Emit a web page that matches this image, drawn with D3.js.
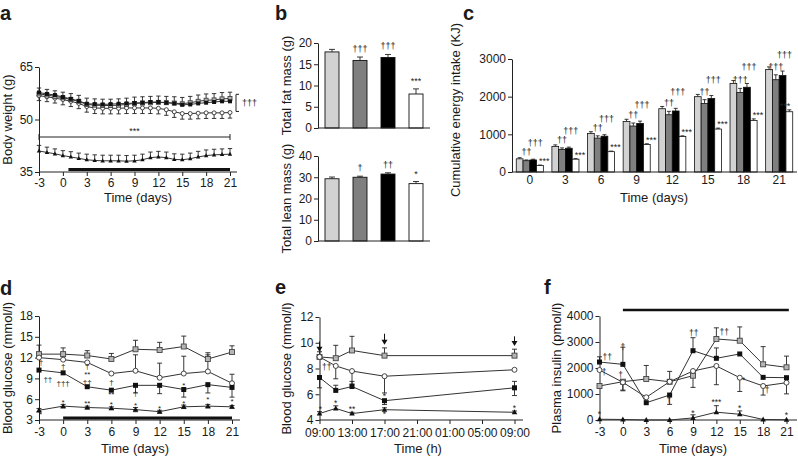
<!DOCTYPE html>
<html><head><meta charset="utf-8">
<script src="https://cdn.jsdelivr.net/npm/d3@7"></script>
<style>body{margin:0;background:#fff}</style>
</head><body><script>
const FONT = '"Liberation Sans", Arial, Helvetica, sans-serif';

// ---------------- DATA ----------------
// Panel a: body weight (g)
const aDays  = [-3,-2,-1,0,1,2,3,4,5,6,7,8,9,10,11,12,13,14,15,16,17,18,19,20,21];
const aBlack = [57.7,57.3,57.0,56.4,55.9,55.3,54.5,54.4,54.3,54.4,54.5,54.6,54.7,54.8,55.0,55.0,54.8,54.6,54.2,54.3,54.6,54.8,55.0,55.2,55.2];
const aGrey  = [57.3,57.0,56.6,56.2,55.7,55.2,54.3,54.1,54.0,54.0,54.1,54.3,54.6,54.7,54.8,54.9,54.8,54.7,54.5,54.8,55.2,55.5,55.6,55.9,56.0];
const aOpen  = [56.8,56.5,56.1,55.7,55.2,54.6,53.7,53.3,53.2,53.2,53.2,53.3,53.3,53.3,53.3,53.2,52.8,52.2,51.7,51.7,51.8,51.9,51.9,51.9,52.0];
const aTri   = [41.0,40.6,40.2,39.7,39.3,38.9,38.5,38.3,38.2,38.2,38.2,38.1,38.2,38.5,39.1,39.3,39.1,38.6,38.5,38.8,39.3,39.7,39.9,40.0,40.1];
const aErrGrey  = [1.7,1.6,1.6,1.6,1.7,1.7,1.8,1.8,1.8,1.8,1.8,1.8,1.8,1.8,1.8,1.8,1.8,1.8,1.8,1.8,1.8,1.8,1.8,1.8,1.8];
const aErrOpen  = [1.4,1.4,1.4,1.5,1.5,1.5,1.6,1.6,1.6,1.6,1.6,1.6,1.6,1.6,1.6,1.6,1.6,1.6,1.6,1.6,1.6,1.6,1.6,1.6,1.6];
const aErrTri   = [1.6,1.5,1.4,1.4,1.5,1.5,1.6,1.6,1.6,1.6,1.6,1.6,1.6,1.6,1.6,1.6,1.6,1.6,1.6,1.6,1.6,1.6,1.6,1.6,1.6];
const aTicksX = [-3,0,3,6,9,12,15,18,21];
const aTicksY = [35,50,65];
const aTreat = [0.7, 21];

// Panel b: body composition
const bGroups = ['g1','g2','g3','g4'];
const bColors = ['#d2d2d2','#7f7f7f','#000000','#ffffff'];
const bFat = [17.9,15.9,16.6,8.0];
const bFatErr = [0.6,0.8,0.7,1.2];
const bFatAnn = ['','†††','†††','***'];
const bLean = [29.3,30.0,31.5,27.0];
const bLeanErr = [0.8,0.5,0.6,1.0];
const bLeanAnn = ['','†','††','*'];
const bFatTicks = [0,5,10,15,20];
const bLeanTicks = [0,10,20,30,40];

// Panel c: cumulative energy intake (KJ)
const cDays = ['0','3','6','9','12','15','18','21'];
const cLight = [350,680,1020,1340,1680,2000,2350,2720];
const cDark  = [300,600,900,1220,1520,1820,2110,2450];
const cBlack = [320,630,950,1290,1620,1950,2250,2560];
const cWhite = [170,340,540,730,940,1140,1370,1600];
const cLightErr = [30,40,50,60,60,60,80,70];
const cDarkErr  = [20,40,60,80,90,100,110,130];
const cBlackErr = [20,30,40,60,70,80,100,120];
const cWhiteErr = [15,15,15,20,20,25,40,50];
const cDarkAnn  = ['††','††','††','††','††','††','†††','†††'];
const cBlackAnn = ['†††','†††','†††','†††','†††','†††','†††','†††'];
const cWhiteAnn = ['***','***','***','***','***','***','***','***'];
const cTicksY = [0,1000,2000,3000];

// Panel d: blood glucose (mmol/l) over days
const dDays = [-3,0,3,6,9,12,15,18,21];
const dGrey  = [12.5,12.5,12.3,11.8,13.2,13.1,13.6,11.8,12.8];
const dGreyUp= [1.3,0.9,0.7,0.8,1.3,1.1,1.5,0.9,0.9];
const dOpen  = [12.0,11.7,11.3,9.7,10.1,9.1,9.7,10.0,8.3];
const dOpenUp= [0,0,0,0,2.3,2.1,2.5,2.4,1.3];
const dBlack = [10.2,9.8,7.8,7.3,8.0,8.0,7.4,8.1,7.7];
const dBlackDn=[0,0,0,0,1.1,1.2,1.1,1.2,1.4];
const dTri   = [4.4,5.0,4.8,4.7,4.5,4.2,4.9,5.0,4.9];
const dTriErr= [0.25,0.25,0.2,0.2,0.3,0.2,0.25,0.25,0.2];
const dTicksY = [3,6,9,12,15,18];
const dTreat = [0, 21];
const dAnn = [[-2.75,11.4,'†'],[-1.9,8.9,'††'],[0,10.8,'†'],[0,8.4,'†††'],[3,10.75,'†'],[3,9.6,'**'],[3,8.5,'††'],
  [6,8.5,'†'],[6,6.7,'**'],[6,5.3,'*'],[9,6.85,'†'],[9,5.2,'*'],[0,5.6,'*'],[3,5.5,'**'],[12,4.8,'*'],
  [15,8.05,'*'],[15,5.5,'*'],[18,6.0,'*'],[21,5.75,'*'],[-2.8,3.9,'*']];

// Panel e: blood glucose over a day (hours from 09:00)
const eHours = [0,2,4,8,24];
const eGrey  = [8.9,8.8,9.4,9.0,9.0];
const eGreyUp= [0.4,1.0,1.1,0.6,0.5];
const eOpen  = [8.9,8.2,7.8,7.4,7.9];
const eOpenDn= [0,1.0,1.0,1.3,0];
const eBlack = [7.3,6.3,6.6,5.5,6.5];
const eBlackUp=[0,0.4,0.4,0,0.5];
const eBlackDn=[0.8,0,0,0.3,0.6];
const eTri   = [4.5,4.9,4.5,4.8,4.6];
const eTriUp = [0.15,0.2,0.1,0.15,0.1];
const eTicksX = [0,4,8,12,16,20,24];
const eTickLabels = ['09:00','13:00','17:00','21:00','01:00','05:00','09:00'];
const eTicksY = [4,6,8,10,12];
const eArrows = [[0,10.1,9.3],[8,10.7,9.85],[24,10.5,9.75]];
const eAnn = [[0.9,8.1,'††'],[0.1,4.85,'*'],[2,5.3,'*'],[4,4.85,'**'],[8,5.9,'*'],[8,4.45,'*'],[24,4.9,'*']];

// Panel f: plasma insulin (pmol/l)
const fDays = [-3,0,3,6,9,12,15,18,21];
const fBlack = [2230,2140,665,960,2665,2372,2540,1640,1628];
const fBlackUp=[200,660,0,0,500,400,0,0,0];
const fBlackDn=[0,0,0,360,0,0,0,0,0];
const fGrey  = [1308,1473,1577,1470,1704,3115,3050,2142,2027];
const fGreyUp= [0,0,520,400,0,430,530,680,430];
const fGreyDn= [0,350,0,0,450,0,0,0,0];
const fOpen  = [1923,1450,873,1473,1885,2077,1627,1308,1435];
const fOpenDn= [0,300,0,0,0,720,530,350,430];
const fTri   = [30,20,0,0,80,300,220,20,10];
const fTriUp = [0,0,0,0,120,250,130,0,0];
const fTicksY = [0,1000,2000,3000,4000];
const fTreat = [0, 21.3];
const fAnn = [[-2.0,2440,'††'],[-2.4,1850,'†'],[0,2820,'†'],[-0.3,1730,'†'],[5.9,770,'†'],[9.1,3360,'††'],[13,3380,'††'],
  [15.5,1540,'*'],[18.5,1150,'†'],[-3,220,'*'],[9,280,'*'],[12,700,'***'],[15,450,'*'],[21,190,'*']];

// ---------------- HELPERS ----------------
const svg = d3.select('body').append('svg').attr('width',798).attr('height',457)
  .style('font-family',FONT);
const INK = '#1a1a1a';
const plain = d => String(d);

function styleAxis(a, fs){
  a.selectAll('path,line').attr('stroke','#222').attr('stroke-width',1);
  a.selectAll('text').attr('font-size',fs||12).attr('fill',INK).attr('font-family',FONT);
}
function yAxis(ys, x, ticks){
  const ax = d3.axisLeft(ys).tickValues(ticks).tickFormat(plain).tickSize(4).tickSizeOuter(0).tickPadding(2);
  const a = svg.append('g').attr('transform',`translate(${x},0)`).call(ax);
  styleAxis(a);
}
function xAxis(xs, y, ticks, fmt, xEnd, tsize, pad){
  const ax = d3.axisBottom(xs).tickSize(tsize===undefined?4:tsize).tickSizeOuter(0).tickPadding(pad||3)
    .tickFormat(fmt || plain);
  if (ticks) ax.tickValues(ticks);
  const a = svg.append('g').attr('transform',`translate(0,${y})`).call(ax);
  a.select('.domain').remove();
  styleAxis(a);
  const x0 = xs.range()[0];
  svg.append('line').attr('x1',x0).attr('x2',xEnd).attr('y1',y).attr('y2',y).attr('stroke','#222');
}
function label(x,y,s,opt){
  opt = opt||{};
  const t = svg.append('text').attr('x',x).attr('y',y).text(s)
    .attr('font-size',opt.fs||13).attr('fill',INK).attr('text-anchor',opt.anchor||'middle')
    .attr('font-weight',opt.bold?'bold':'normal');
  if (opt.rot) t.attr('transform',`rotate(-90,${x},${y})`);
  return t;
}
function ann(x,y,s,fs,anchor){
  svg.append('text').attr('x',x).attr('y',y).text(s).attr('font-size',fs||8.5)
    .attr('fill','#222').attr('text-anchor',anchor||'middle');
}
function marker(g,type,x,y,s){
  if (type==='fsq') g.append('rect').attr('x',x-s/2).attr('y',y-s/2).attr('width',s).attr('height',s).attr('fill','#111');
  else if (type==='gsq') g.append('rect').attr('x',x-s/2).attr('y',y-s/2).attr('width',s).attr('height',s).attr('fill','#b5b5b5').attr('stroke','#444').attr('stroke-width',0.9);
  else if (type==='circ') g.append('circle').attr('cx',x).attr('cy',y).attr('r',s/2).attr('fill','#fff').attr('stroke','#333').attr('stroke-width',0.9);
  else if (type==='tri') g.append('path').attr('d',`M${x},${y-s*0.6}L${x+s*0.55},${y+s*0.4}L${x-s*0.55},${y+s*0.4}Z`).attr('fill','#111');
}
function errbar(g,x,y1,y2,cap){
  g.append('line').attr('x1',x).attr('x2',x).attr('y1',y1).attr('y2',y2).attr('stroke','#222').attr('stroke-width',0.9);
  g.append('line').attr('x1',x-cap).attr('x2',x+cap).attr('y1',y2).attr('y2',y2).attr('stroke','#222').attr('stroke-width',0.9);
}
function lineChart(xs, ys, xv, series, msize, cap){
  const gE = svg.append('g'), gL = svg.append('g'), gM = svg.append('g');
  series.forEach(s=>{
    s.vals.forEach((v,i)=>{
      const x = xs(xv[i]);
      if (s.up && s.up[i]) errbar(gE,x,ys(v),ys(v+s.up[i]),cap);
      if (s.dn && s.dn[i]) errbar(gE,x,ys(v),ys(v-s.dn[i]),cap);
    });
    const line = d3.line().x((d,i)=>xs(xv[i])).y(d=>ys(d));
    gL.append('path').attr('d',line(s.vals)).attr('fill','none').attr('stroke','#333').attr('stroke-width',1);
  });
  series.forEach(s=>{
    s.vals.forEach((v,i)=>marker(gM,s.type,xs(xv[i]),ys(v),msize));
  });
}
function thickBar(xs, range, y, w){
  svg.append('line').attr('x1',xs(range[0])).attr('x2',xs(range[1])).attr('y1',y).attr('y2',y)
    .attr('stroke','#111').attr('stroke-width',w||3);
}

// ---------------- PANEL a ----------------
{
  const xs = d3.scaleLinear().domain([-3,21]).range([39,230]);
  const ys = d3.scaleLinear().domain([35,65]).range([172,67]);
  yAxis(ys,39,aTicksY);
  xAxis(xs,172,aTicksX,null,237,4,2);
  lineChart(xs,ys,aDays,[
    {vals:aOpen, dn:aErrOpen, type:'circ'},
    {vals:aGrey, up:aErrGrey, type:'gsq'},
    {vals:aBlack, type:'fsq'},
    {vals:aTri, up:aErrTri, type:'tri'}
  ],4,2.2);
  thickBar(xs,aTreat,169.5,3);
  const yb = ys(45);
  svg.append('path').attr('d',`M${xs(-3)},${yb-3}V${yb+3}M${xs(-3)},${yb}H${xs(21)}M${xs(21)},${yb-3}V${yb+3}`)
    .attr('stroke','#222').attr('fill','none');
  ann(xs(9),yb-3,'***',9);
  const bx = 236;
  svg.append('path').attr('d',`M${bx+3},${ys(57.2)}H${bx}V${ys(52.3)}H${bx+3}`).attr('stroke','#222').attr('fill','none');
  ann(bx+6,ys(54.6)+3,'†††',9,'start');
  label(0,20,'a',{fs:20,bold:true,anchor:'start'});
  label(12,ys(50),'Body weight (g)',{rot:true});
  label(138,202,'Time (days)');
}

// ---------------- PANEL b ----------------
{
  const xs = d3.scaleBand().domain(bGroups).range([318,430]).paddingInner(0.5).paddingOuter(0.25);
  const yT = d3.scaleLinear().domain([0,20]).range([128,43]);
  const yB = d3.scaleLinear().domain([0,40]).range([241,156]);
  [[yT,bFat,bFatErr,bFatAnn,bFatTicks],[yB,bLean,bLeanErr,bLeanAnn,bLeanTicks]].forEach(([ys,vals,errs,anns,ticks])=>{
    const g = svg.append('g');
    vals.forEach((v,i)=>{
      const x = xs(bGroups[i]), w = xs.bandwidth();
      errbar(g,x+w/2,ys(v),ys(v+errs[i]),3);
      g.append('rect').attr('x',x).attr('y',ys(v)).attr('width',w).attr('height',ys(0)-ys(v))
        .attr('fill',bColors[i]).attr('stroke','#111').attr('stroke-width',0.9);
      if (anns[i]) ann(x+w/2, ys(v+errs[i])-5, anns[i], 9);
    });
    yAxis(ys,318,ticks);
    svg.append('line').attr('x1',318).attr('x2',430).attr('y1',ys(0)).attr('y2',ys(0)).attr('stroke','#222');
  });
  label(275,20,'b',{fs:20,bold:true,anchor:'start'});
  label(291,yT(10),'Total fat mass (g)',{rot:true});
  label(291,yB(20),'Total lean mass (g)',{rot:true});
}

// ---------------- PANEL c ----------------
{
  const xs = d3.scaleBand().domain(cDays).range([512,797]).paddingInner(0.24).paddingOuter(0.12);
  const inner = d3.scaleBand().domain([0,1,2,3]).range([0,xs.bandwidth()]).padding(0);
  const ys = d3.scaleLinear().domain([0,3000]).range([172,59]);
  const sets = [[cLight,cLightErr,bColors[0]],[cDark,cDarkErr,bColors[1]],[cBlack,cBlackErr,bColors[2]],[cWhite,cWhiteErr,bColors[3]]];
  const g = svg.append('g');
  cDays.forEach((d,di)=>{
    sets.forEach(([vals,errs,col],si)=>{
      const x = xs(d)+inner(si), w = inner.bandwidth(), v = vals[di];
      errbar(g,x+w/2,ys(v),ys(v+errs[di]),2);
      g.append('rect').attr('x',x).attr('y',ys(v)).attr('width',w).attr('height',ys(0)-ys(v))
        .attr('fill',col).attr('stroke','#111').attr('stroke-width',0.8);
    });
    const w = inner.bandwidth();
    ann(xs(d)+inner(1)+w/2, ys(cDark[di]+cDarkErr[di])-5, cDarkAnn[di], 9);
    ann(xs(d)+inner(2)+w/2+2, ys(cBlack[di]+cBlackErr[di])-13, cBlackAnn[di], 9);
    ann(Math.min(xs(d)+inner(3)+w+1, 785), ys(cWhite[di]+cWhiteErr[di])-1, cWhiteAnn[di], 9);
  });
  yAxis(ys,512,cTicksY);
  xAxis(xs,172,null,null,797,0);
  label(463,20,'c',{fs:20,bold:true,anchor:'start'});
  label(460,110,'Cumulative energy intake (KJ)',{rot:true});
  label(654,202,'Time (days)');
}

// ---------------- PANEL d ----------------
{
  const xs = d3.scaleLinear().domain([-3,21]).range([39,232]);
  const ys = d3.scaleLinear().domain([3,18]).range([420,316]);
  yAxis(ys,39,dTicksY);
  xAxis(xs,420,dDays,null,240);
  lineChart(xs,ys,dDays,[
    {vals:dGrey, up:dGreyUp, type:'gsq'},
    {vals:dOpen, up:dOpenUp, type:'circ'},
    {vals:dBlack, dn:dBlackDn, type:'fsq'},
    {vals:dTri, up:dTriErr, dn:dTriErr, type:'tri'}
  ],5,2.5);
  thickBar(xs,dTreat,418,3);
  dAnn.forEach(([d,v,s])=>ann(xs(d),ys(v)+3,s,8));
  label(0,295,'d',{fs:20,bold:true,anchor:'start'});
  label(12,ys(10.5),'Blood glucose (mmol/l)',{rot:true});
  label(135,453,'Time (days)');
}

// ---------------- PANEL e ----------------
{
  const xs = d3.scaleLinear().domain([0,24]).range([319.5,514.5]);
  const ys = d3.scaleLinear().domain([4,12]).range([420,317]);
  yAxis(ys,319.5,eTicksY);
  xAxis(xs,420,eTicksX,(d,i)=>eTickLabels[i],523,4,4.5);
  lineChart(xs,ys,eHours,[
    {vals:eGrey, up:eGreyUp, type:'gsq'},
    {vals:eOpen, dn:eOpenDn, type:'circ'},
    {vals:eBlack, up:eBlackUp, dn:eBlackDn, type:'fsq'},
    {vals:eTri, up:eTriUp, type:'tri'}
  ],5,2.5);
  eArrows.forEach(([h,v1,v2])=>{
    const x = xs(h), y1 = ys(v1), y2 = ys(v2);
    svg.append('line').attr('x1',x).attr('x2',x).attr('y1',y1).attr('y2',y2-3).attr('stroke','#111').attr('stroke-width',1);
    svg.append('path').attr('d',`M${x-3},${y2-5}L${x+3},${y2-5}L${x},${y2}Z`).attr('fill','#111');
  });
  eAnn.forEach(([h,v,s])=>ann(xs(h),ys(v)+3,s,8.5));
  label(275,294,'e',{fs:20,bold:true,anchor:'start'});
  label(291,ys(8),'Blood glucose (mmol/l)',{rot:true});
  label(418,453,'Time (h)');
}

// ---------------- PANEL f ----------------
{
  const xs = d3.scaleLinear().domain([-3,21]).range([599.5,786.5]);
  const ys = d3.scaleLinear().domain([0,4000]).range([420,316]);
  yAxis(ys,599.5,fTicksY);
  xAxis(xs,420,fDays,null,797);
  lineChart(xs,ys,fDays,[
    {vals:fGrey, up:fGreyUp, dn:fGreyDn, type:'gsq'},
    {vals:fOpen, dn:fOpenDn, type:'circ'},
    {vals:fBlack, up:fBlackUp, dn:fBlackDn, type:'fsq'},
    {vals:fTri, up:fTriUp, type:'tri'}
  ],5,2.5);
  thickBar(xs,fTreat,310,2.5);
  fAnn.forEach(([d,v,s])=>ann(xs(d),ys(v)+3,s,8.5));
  label(544,294,'f',{fs:20,bold:true,anchor:'start'});
  label(561,ys(2000),'Plasma insulin (pmol/l)',{rot:true});
  label(693,453,'Time (days)');
}
</script></body></html>
